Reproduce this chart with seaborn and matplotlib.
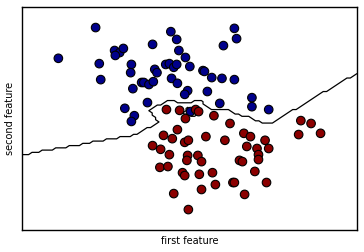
import numpy as np
import pandas as pd
import matplotlib
matplotlib.use("Agg")
import matplotlib.pyplot as plt
import seaborn as sns

# class 0 (blue) points
blue_x = [1.00, 0.49, 1.26, 1.33, 1.38, 1.27, 1.78, 2.03, 2.11, 2.14, 2.23, 2.29,
          1.05, 1.07, 1.49, 1.48, 1.81, 1.84, 1.96, 2.01, 2.07, 2.11, 1.63, 1.66,
          1.73, 1.79, 2.04, 2.12, 1.51, 1.71, 1.40, 1.53, 1.49, 2.90, 2.93, 2.75,
          2.47, 2.49, 2.59, 2.73, 2.90, 2.26, 2.22, 2.53, 2.70, 3.14, 3.14, 3.37, 2.30]
blue_y = [4.95, 4.20, 4.39, 4.34, 4.44, 4.27, 4.54, 4.85, 4.66, 4.39, 4.22, 4.00,
          4.07, 3.68, 4.05, 3.85, 3.93, 3.85, 4.05, 4.07, 3.98, 4.05, 3.61, 3.61,
          3.56, 3.63, 3.71, 3.59, 3.46, 3.12, 2.98, 2.80, 2.66, 4.93, 4.68, 4.51,
          3.90, 3.88, 3.73, 3.71, 3.68, 3.41, 3.32, 3.39, 3.10, 3.24, 3.02, 2.95, 2.90]
# class 1 (red) points
red_x = [1.97, 2.15, 2.37, 2.41, 2.23, 2.62, 2.12, 2.84, 3.81, 3.95, 1.93, 2.05,
         1.78, 1.89, 2.01, 2.22, 2.27, 2.51, 2.77, 3.03, 3.12, 3.32, 3.07, 3.21,
         3.37, 3.23, 3.23, 2.26, 2.40, 2.25, 2.45, 1.88, 1.99, 2.97, 3.01, 2.19,
         2.22, 2.42, 2.60, 3.18, 2.88, 2.90, 2.64, 3.34, 2.45, 2.07, 3.04, 2.27,
         3.78, 4.08]
red_y = [2.95, 2.93, 2.95, 2.90, 2.73, 2.80, 2.46, 2.61, 2.68, 2.61, 2.32, 2.24,
         2.07, 1.98, 1.85, 2.15, 2.20, 2.29, 2.20, 2.37, 2.29, 2.20, 2.05, 2.00,
         2.00, 1.85, 1.73, 1.83, 1.83, 1.71, 1.68, 1.54, 1.56, 1.71, 1.68, 1.41,
         1.34, 1.37, 1.41, 1.44, 1.17, 1.17, 1.12, 1.17, 1.00, 0.90, 0.88, 0.51,
         2.34, 2.37]

x_label = "first feature"
y_label = "second feature"

df = pd.DataFrame({
    "f0": blue_x + red_x,
    "f1": blue_y + red_y,
    "cls": [0] * len(blue_x) + [1] * len(red_x),
})

X = df[["f0", "f1"]].to_numpy()
y = df["cls"].to_numpy()

# nearest-neighbour (k=1) decision boundary on a 100x100 grid
eps = 0.5
x_min, x_max = X[:, 0].min() - eps, X[:, 0].max() + eps
y_min, y_max = X[:, 1].min() - eps, X[:, 1].max() + eps
xx = np.linspace(x_min, x_max, 100)
yy = np.linspace(y_min, y_max, 100)
X1, X2 = np.meshgrid(xx, yy)
grid = np.c_[X1.ravel(), X2.ravel()]
w = np.array([1.0, 1.25])  # feature weighting of the distance
d2 = (((grid[:, None, :] - X[None, :, :]) * w) ** 2).sum(axis=2)
pred = y[np.argmin(d2, axis=1)].reshape(X1.shape).astype(float)

fig = plt.figure(figsize=(3.64, 2.52), dpi=100)
ax = fig.add_axes([0.060, 0.087, 0.921, 0.885])

ax.contour(X1, X2, pred, levels=[0.5], colors="black", linewidths=0.9, zorder=1)
sns.scatterplot(data=df, x="f0", y="f1", hue="cls",
                palette={0: "#00008b", 1: "#8b0000"},
                s=38, edgecolor="black", linewidth=0.8, legend=False,
                ax=ax, zorder=3)

ax.set_xlim(x_min, x_max)
ax.set_ylim(y_min, y_max)
ax.set_xticks([])
ax.set_yticks([])
ax.set_xlabel(x_label, fontsize=7, labelpad=4)
ax.set_ylabel(y_label, fontsize=7, labelpad=5)
for sp in ax.spines.values():
    sp.set_color("black")
    sp.set_linewidth(1.0)

fig.savefig("out.png", dpi=100)
